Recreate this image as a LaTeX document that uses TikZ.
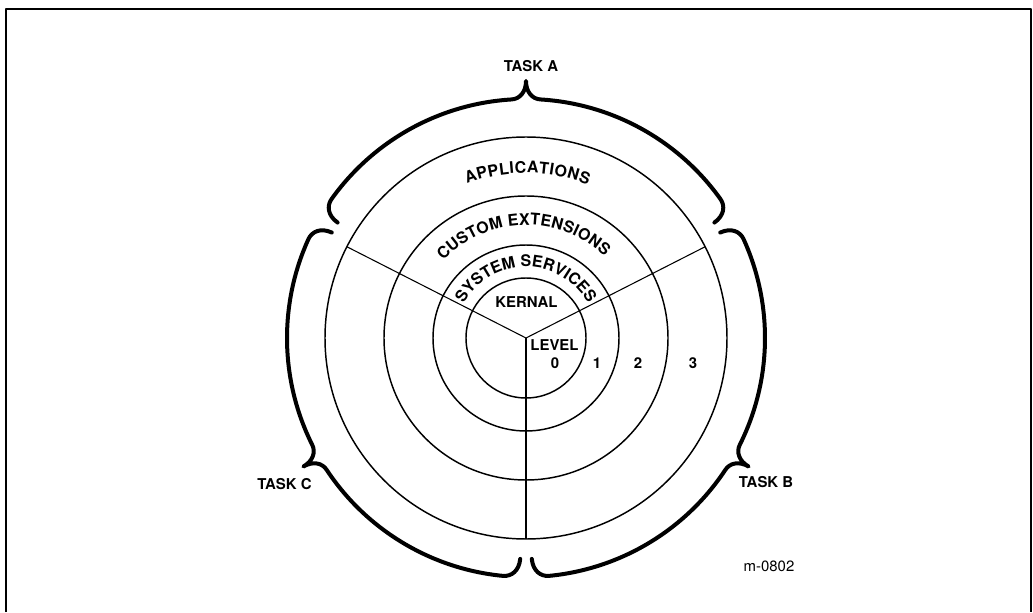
\documentclass[tikz,border=0pt]{standalone}
\usepackage{fontspec}
\setmainfont{TeX Gyre Heros}
\usetikzlibrary{decorations.text}
\newcommand{\lblfont}{\fontsize{11.2}{13}\selectfont\bfseries}
\newcommand{\ringfont}{\fontsize{12}{14}\selectfont\bfseries}

\begin{document}
\begin{tikzpicture}[x=0.75pt,y=0.75pt,line join=round,
  ring/.style={line width=1.1pt},
  spoke/.style={line width=0.8pt},
  taskbrace/.style={line width=3pt,line cap=round},
  lbl/.style={font=\lblfont,inner sep=0pt},
  ringtext/.style={decorate,decoration={text along path,text align={fit to path},text={|\ringfont|#1}}}]
\useasboundingbox (0,0) rectangle (1033,612);
%% frame
\draw[line width=2pt] (6,0) -- (6,603) -- (1031,603) -- (1031,0);
%%
\coordinate (hub) at (526,274);
\begin{scope}[shift={(hub)}]
  \foreach \r in {60,93,142,201}
    \draw[ring] (0,0) circle[radius=\r];
  \foreach \a in {153,27,270}
    \draw[spoke] (hub) -- (\a:201);
  % task braces
  \foreach \a in {90,-30,210}
    \draw[taskbrace,rotate=\a-90] (148.5:221) .. controls (148.3:233) and (146.5:239) .. (144.5:239)
      arc[start angle=144.5,end angle=93.5,radius=239]
      .. controls (91.5:239) and (90:246) .. (90:257)
      .. controls (90:246) and (88.5:239) .. (86.5:239)
      arc[start angle=86.5,end angle=35.5,radius=239]
      .. controls (33.5:239) and (31.7:233) .. (31.5:221);
  % ring names
  \path[ringtext=APPLICATIONS] (111:165) arc[start angle=111,end angle=68,radius=165];
  \path[ringtext=CUSTOM EXTENSIONS] (137:113) arc[start angle=137,end angle=46,radius=113];
  \path[ringtext=SYSTEM SERVICES] (151:71) arc[start angle=151,end angle=31,radius=71];
\end{scope}
%%
\node[lbl] (taskA) at (531,546) {TASK A};
\node[lbl] (taskB) at (766,129.5) {TASK B};
\node[lbl] (taskC) at (284.5,128) {TASK C};
\node[lbl] (kernal) at (526.5,309.5) {KERNAL};
\node[lbl] (level) at (554.5,267) {LEVEL};
\node[lbl] (lvl0) at (555,249) {0};
\node[lbl] (lvl1) at (597,249) {1};
\node[lbl] (lvl2) at (638,249) {2};
\node[lbl] (lvl3) at (693,249) {3};
\node[font=\fontsize{11.2}{13}\selectfont,inner sep=0pt] (figid) at (769,46) {m-0802};
%
\end{tikzpicture}
\end{document}
